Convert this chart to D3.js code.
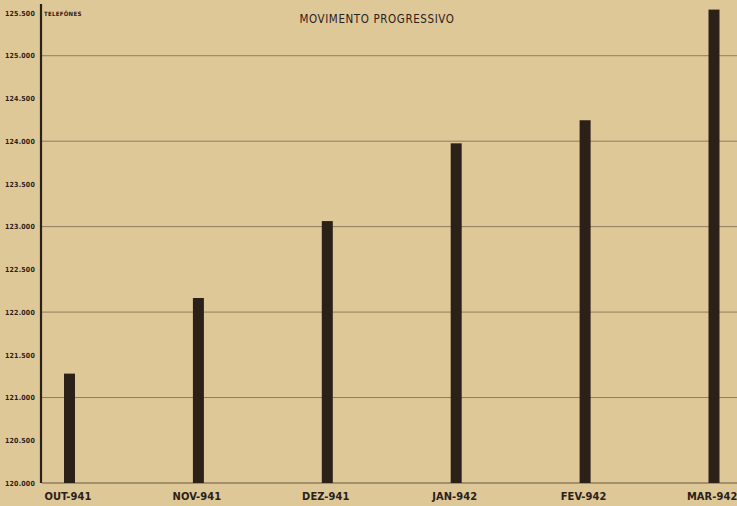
<!DOCTYPE html>
<html>
<head>
<meta charset="utf-8">
<script src="https://cdn.jsdelivr.net/npm/d3@7"></script>
<style>
  html, body { margin: 0; padding: 0; background: #dfc898; }
  svg { display: block; }
</style>
</head>
<body>
<div class="wrapper"></div>
<script>
//Data
var months = ["OUT-941", "NOV-941", "DEZ-941", "JAN-942", "FEV-942", "MAR-942"];
var phones = [121280, 122165, 123065, 123975, 124245, 125540];
var yTicks = [120000, 120500, 121000, 121500, 122000, 122500, 123000, 123500, 124000, 124500, 125000, 125500];
var gridTicks = [120000, 121000, 122000, 123000, 124000, 125000];

//Dimensions
var width = 737, height = 506;
var ink = "#2a2119";

var svg = d3.select(".wrapper").append("svg")
    .attr("width", width)
    .attr("height", height);

svg.append("rect")
    .attr("width", width)
    .attr("height", height)
    .attr("fill", "#dfc898");

//Scales
var x = d3.scalePoint().domain(months).range([69.5, 714]);
var y = d3.scaleLinear().domain([120000, 125500]).range([483, 13]);

//Grid lines
svg.selectAll(".grid")
    .data(gridTicks)
    .enter().append("line")
    .attr("class", "grid")
    .attr("x1", 42)
    .attr("x2", width)
    .attr("y1", function(d) { return y(d); })
    .attr("y2", function(d) { return y(d); })
    .attr("stroke", function(d) { return d == 120000 ? "#5a4c38" : "#857558"; })
    .attr("stroke-width", 0.9);

//Bars
svg.selectAll(".bar")
    .data(phones)
    .enter().append("rect")
    .attr("class", "bar")
    .attr("x", function(d, i) { return x(months[i]) - 5.5; })
    .attr("width", 11)
    .attr("y", function(d) { return y(d); })
    .attr("height", function(d) { return y(120000) - y(d); })
    .attr("fill", "#2b2118");

//Y axis
var yAxis = d3.axisLeft(y)
    .tickValues(yTicks)
    .tickSize(0)
    .tickPadding(6)
    .tickFormat(function(d) { return d3.format(",")(d).replace(",", "."); });

var gy = svg.append("g")
    .attr("class", "y axis")
    .attr("transform", "translate(41,0)")
    .call(yAxis);
gy.select(".domain").remove();
gy.selectAll("text")
    .attr("fill", ink)
    .style("font-family", "'DejaVu Sans Condensed', sans-serif")
    .style("font-weight", "bold")
    .style("font-size", "7px")
    .style("letter-spacing", "0.2px");

svg.append("line")
    .attr("x1", 41).attr("x2", 41)
    .attr("y1", 4).attr("y2", y(120000))
    .attr("stroke", ink)
    .attr("stroke-width", 2.2);

//X axis labels
var xAxis = d3.axisBottom(x).tickSize(0).tickPadding(9);
var gx = svg.append("g")
    .attr("class", "x axis")
    .attr("transform", "translate(-2," + y(120000) + ")")
    .call(xAxis);
gx.select(".domain").remove();
gx.selectAll("text")
    .attr("fill", ink)
    .style("font-family", "'DejaVu Sans Condensed', sans-serif")
    .style("font-size", "11px")
    .style("font-weight", "600")
    .style("letter-spacing", "0.1px");
//last label sits against the right edge, as in the original
gx.selectAll(".tick:last-of-type text")
    .attr("text-anchor", "end")
    .attr("x", 737 - x(months[5]) + 2);

//Titles
svg.append("text")
    .attr("x", 44)
    .attr("y", 16)
    .attr("fill", ink)
    .style("font-family", "'DejaVu Sans Condensed', sans-serif")
    .style("font-weight", "bold")
    .style("font-size", "6px")
    .style("letter-spacing", "0.3px")
    .text("TELEFÔNES");

svg.append("text")
    .attr("x", 377)
    .attr("y", 23)
    .attr("text-anchor", "middle")
    .attr("fill", ink)
    .style("font-family", "'DejaVu Sans Condensed', sans-serif")
    .style("font-size", "11.5px")
    .style("letter-spacing", "0.6px")
    .text("MOVIMENTO  PROGRESSIVO");
</script>
</body>
</html>
